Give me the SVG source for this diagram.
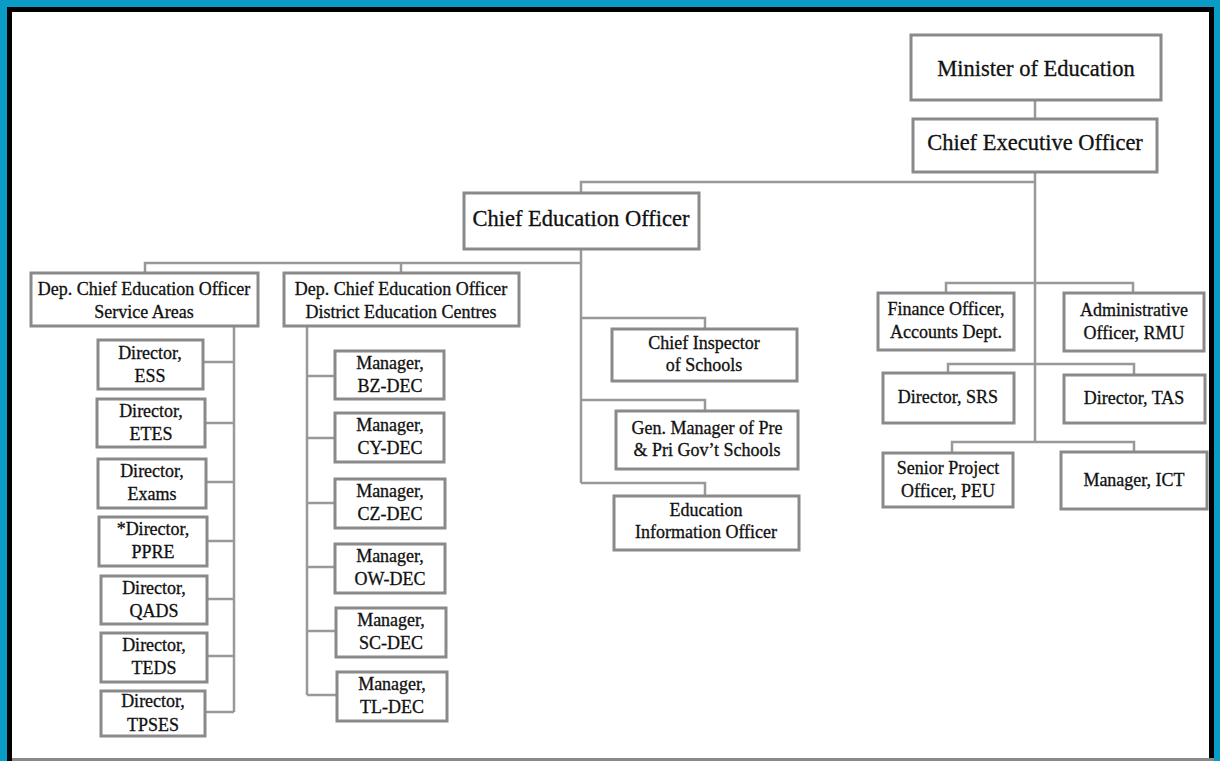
<svg xmlns="http://www.w3.org/2000/svg" width="1220" height="761" viewBox="0 0 1220 761">
<style>
.box{fill:#fff;stroke:#8a8a8a;stroke-width:3}
.t{font-family:'Liberation Serif','DejaVu Serif',serif;font-size:18px;fill:#111;stroke:#111;stroke-width:0.3;text-anchor:middle}
.big{font-size:22.5px}
.c{stroke:#999;stroke-width:2.5;fill:none}
</style>
<rect x="0" y="0" width="1220" height="761" fill="#0a9bc7"/>
<rect x="7" y="7" width="1207" height="754" fill="#000"/>
<rect x="12" y="12" width="1197" height="747" fill="#fff"/>
<rect x="12" y="758" width="1202" height="3" fill="#8a8a8a"/>
<g id="connectors">
<path class="c" d="M1035,100V119"/>
<path class="c" d="M1035,172V442"/>
<path class="c" d="M1035,182H581V193"/>
<path class="c" d="M581,249V483"/>
<path class="c" d="M145,273V263H581"/>
<path class="c" d="M401,263V273"/>
<path class="c" d="M581,318H705V329"/>
<path class="c" d="M581,400H705V411"/>
<path class="c" d="M581,483H705V496"/>
<path class="c" d="M234,326V712"/>
<path class="c" d="M203,362H234M205,423H234M206,482H234M207,541H234M207,599H234M207,656H234M205,712H234"/>
<path class="c" d="M307,326V695"/>
<path class="c" d="M307,376H335M307,438H335M307,503H335M307,567H335M307,631H336M307,695H337"/>
<path class="c" d="M946,293V283H1133V293"/>
<path class="c" d="M948,373V364H1134V375"/>
<path class="c" d="M952,453V442H1134V452"/>
</g>
<g id="minister"><rect class="box" x="911" y="35" width="250" height="65"/><text class="t big" x="1036" y="76">Minister of Education</text></g>
<g id="ceo"><rect class="box" x="913" y="119" width="244" height="53"/><text class="t big" x="1035" y="150">Chief Executive Officer</text></g>
<g id="cedo"><rect class="box" x="464" y="193" width="235" height="56"/><text class="t big" x="581" y="226">Chief Education Officer</text></g>
<g id="dep-sa"><rect class="box" x="31" y="273" width="227" height="53"/><text class="t" x="144" y="295">Dep. Chief Education Officer</text><text class="t" x="144" y="318">Service Areas</text></g>
<g id="dep-dec"><rect class="box" x="284" y="273" width="235" height="53"/><text class="t" x="401" y="295">Dep. Chief Education Officer</text><text class="t" x="401" y="318">District Education Centres</text></g>
<g id="dir-ess"><rect class="box" x="98" y="340" width="105" height="49"/><text class="t" x="150" y="359">Director,</text><text class="t" x="150" y="382">ESS</text></g>
<g id="dir-etes"><rect class="box" x="97" y="399" width="108" height="48"/><text class="t" x="151" y="417">Director,</text><text class="t" x="151" y="440">ETES</text></g>
<g id="dir-exams"><rect class="box" x="98" y="459" width="108" height="49"/><text class="t" x="152" y="477">Director,</text><text class="t" x="152" y="500">Exams</text></g>
<g id="dir-ppre"><rect class="box" x="99" y="517" width="108" height="49"/><text class="t" x="153" y="535">*Director,</text><text class="t" x="153" y="558">PPRE</text></g>
<g id="dir-qads"><rect class="box" x="101" y="576" width="106" height="48"/><text class="t" x="154" y="594">Director,</text><text class="t" x="154" y="617">QADS</text></g>
<g id="dir-teds"><rect class="box" x="101" y="633" width="106" height="49"/><text class="t" x="154" y="651">Director,</text><text class="t" x="154" y="674">TEDS</text></g>
<g id="dir-tpses"><rect class="box" x="101" y="691" width="104" height="45"/><text class="t" x="153" y="707">Director,</text><text class="t" x="153" y="731">TPSES</text></g>
<g id="mgr-bz"><rect class="box" x="335" y="351" width="109" height="48"/><text class="t" x="390" y="369">Manager,</text><text class="t" x="390" y="392">BZ-DEC</text></g>
<g id="mgr-cy"><rect class="box" x="335" y="413" width="109" height="49"/><text class="t" x="390" y="431">Manager,</text><text class="t" x="390" y="454">CY-DEC</text></g>
<g id="mgr-cz"><rect class="box" x="335" y="479" width="110" height="49"/><text class="t" x="390" y="497">Manager,</text><text class="t" x="390" y="520">CZ-DEC</text></g>
<g id="mgr-ow"><rect class="box" x="335" y="544" width="110" height="49"/><text class="t" x="390" y="562">Manager,</text><text class="t" x="390" y="585">OW-DEC</text></g>
<g id="mgr-sc"><rect class="box" x="336" y="608" width="110" height="49"/><text class="t" x="391" y="626">Manager,</text><text class="t" x="391" y="649">SC-DEC</text></g>
<g id="mgr-tl"><rect class="box" x="337" y="672" width="110" height="49"/><text class="t" x="392" y="690">Manager,</text><text class="t" x="392" y="713">TL-DEC</text></g>
<g id="chief-inspector"><rect class="box" x="612" y="329" width="185" height="52"/><text class="t" x="704" y="349">Chief Inspector</text><text class="t" x="704" y="371">of Schools</text></g>
<g id="gen-manager"><rect class="box" x="616" y="411" width="182" height="58"/><text class="t" x="707" y="434">Gen. Manager of Pre</text><text class="t" x="707" y="456">&amp; Pri Gov’t Schools</text></g>
<g id="edu-info"><rect class="box" x="614" y="496" width="185" height="54"/><text class="t" x="706" y="516">Education</text><text class="t" x="706" y="538">Information Officer</text></g>
<g id="finance"><rect class="box" x="878" y="293" width="136" height="57"/><text class="t" x="946" y="315">Finance Officer,</text><text class="t" x="946" y="338">Accounts Dept.</text></g>
<g id="admin"><rect class="box" x="1064" y="293" width="140" height="58"/><text class="t" x="1134" y="316">Administrative</text><text class="t" x="1134" y="339">Officer, RMU</text></g>
<g id="dir-srs"><rect class="box" x="883" y="373" width="131" height="50"/><text class="t" x="948" y="403">Director, SRS</text></g>
<g id="dir-tas"><rect class="box" x="1064" y="375" width="141" height="48"/><text class="t" x="1134" y="404">Director, TAS</text></g>
<g id="peu"><rect class="box" x="883" y="453" width="130" height="54"/><text class="t" x="948" y="474">Senior Project</text><text class="t" x="948" y="497">Officer, PEU</text></g>
<g id="ict"><rect class="box" x="1061" y="452" width="146" height="57"/><text class="t" x="1134" y="486">Manager, ICT</text></g>
</svg>
